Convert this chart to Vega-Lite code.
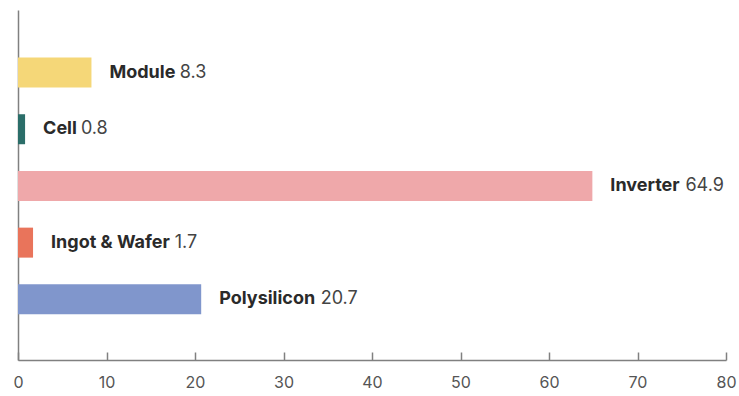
{
  "$schema": "https://vega.github.io/schema/vega-lite/v6.json",
  "width": 708,
  "height": 350,
  "autosize": "none",
  "padding": {"left": 18, "top": 10, "right": 13, "bottom": 36},
  "background": "white",
  "config": {"view": {"stroke": null}},
  "data": {
    "values": [
      {"name": "Module", "value": 8.3},
      {"name": "Cell", "value": 0.8},
      {"name": "Inverter", "value": 64.9},
      {"name": "Ingot & Wafer", "value": 1.7},
      {"name": "Polysilicon", "value": 20.7}
    ]
  },
  "encoding": {
    "y": {
      "field": "name",
      "type": "nominal",
      "sort": null,
      "scale": {"paddingInner": 0.471, "paddingOuter": 0.822, "align": 0.51},
      "axis": {"labels": false, "ticks": false, "title": null, "grid": false, "domainColor": "#808080", "domainWidth": 1.5}
    }
  },
  "layer": [
    {
      "mark": {"type": "bar"},
      "encoding": {
        "x": {
          "field": "value",
          "type": "quantitative",
          "scale": {"domain": [0, 80], "nice": false},
          "axis": {
            "title": null,
            "grid": false,
            "values": [0, 10, 20, 30, 40, 50, 60, 70, 80],
            "tickSize": -8,
            "tickColor": "#808080",
            "tickWidth": 1.5,
            "domainColor": "#808080",
            "domainWidth": 1.5,
            "labelPadding": 22,
            "labelFont": "Inter",
            "labelFontSize": 16,
            "labelColor": "#555555",
            "labelFlush": false
          }
        },
        "color": {
          "field": "name",
          "type": "nominal",
          "legend": null,
          "scale": {
            "domain": ["Module", "Cell", "Inverter", "Ingot & Wafer", "Polysilicon"],
            "range": ["#F5D778", "#2B6E69", "#EFA8AA", "#E9745B", "#8096CC"]
          }
        }
      }
    },
    {
      "mark": {"type": "text", "align": "left", "baseline": "middle", "dx": 18, "font": "Inter", "fontSize": 18, "fontWeight": "bold", "color": "#2a2a2a"},
      "encoding": {
        "x": {"field": "value", "type": "quantitative"},
        "text": {"field": "name"}
      }
    },
    {
      "transform": [
        {"calculate": "datum.value + (24.5 + 18*(0.6*length(datum.name) - 0.33*length(replace(datum.name, regexp('[^ilIj]','g'), '')) - 0.22*length(replace(datum.name, regexp('[^tfr]','g'), '')) + 0.1*length(replace(datum.name, regexp('[^&]','g'), '')) - 0.34*length(replace(datum.name, regexp('[^ ]','g'), '')) + 0.28*length(replace(datum.name, regexp('[^MWmw]','g'), ''))))/8.85", "as": "vx"}
      ],
      "mark": {"type": "text", "align": "left", "baseline": "middle", "font": "Inter", "fontSize": 18, "fontWeight": "normal", "color": "#444444"},
      "encoding": {
        "x": {"field": "vx", "type": "quantitative"},
        "text": {"field": "value", "type": "quantitative", "format": ".1f"}
      }
    }
  ]
}
